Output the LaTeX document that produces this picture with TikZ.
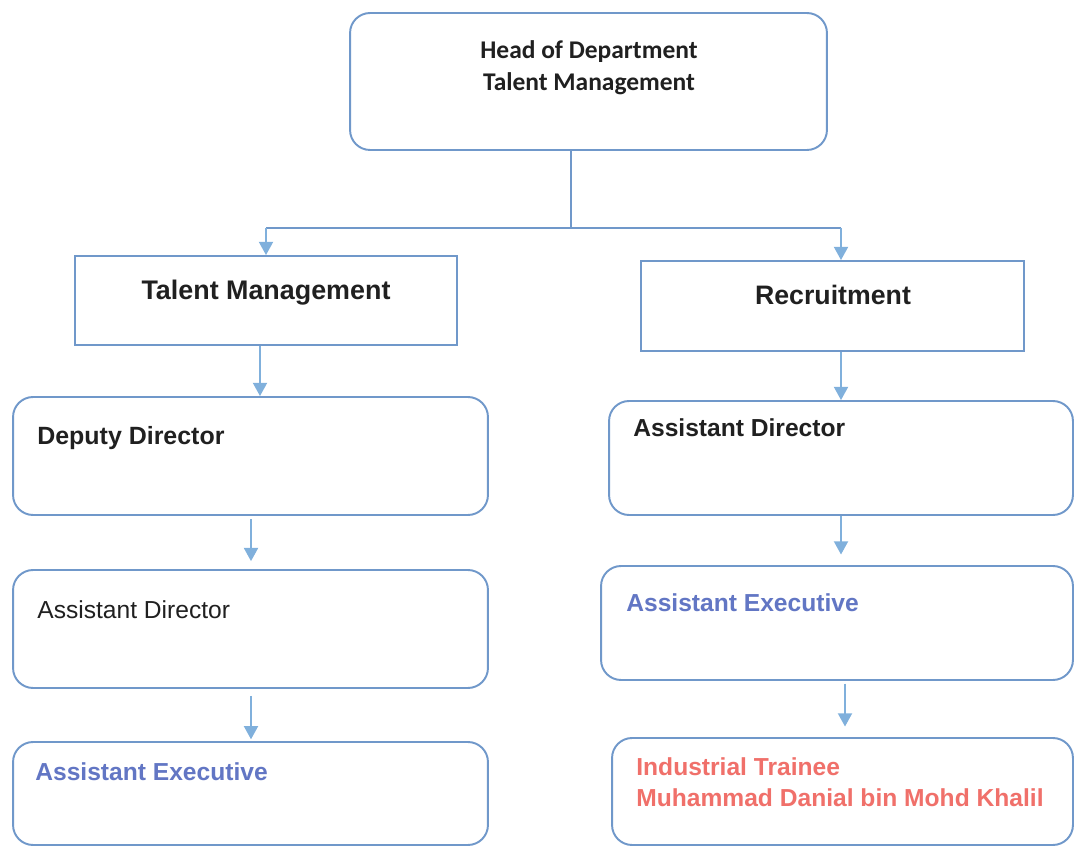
\documentclass[tikz,border=0pt]{standalone}
\usepackage{fontspec}
\setmainfont{Liberation Sans}
\newfontfamily\headfont{Carlito}
\usetikzlibrary{arrows.meta}
\definecolor{boxline}{RGB}{112,152,202}
\definecolor{arrowblue}{RGB}{128,176,220}
\definecolor{exectext}{RGB}{98,118,196}
\definecolor{traineetext}{RGB}{240,112,106}
\definecolor{darktext}{RGB}{32,32,32}
\begin{document}
\begin{tikzpicture}
	[x=0.02cm,y=-0.02cm,
	rbox/.style={draw=boxline,line width=1.1pt,rounded corners=0.4cm,fill=white,inner sep=0pt},
	sbox/.style={draw=boxline,line width=1.1pt,fill=white,inner sep=0pt},
	lbl/.style={inner sep=0pt,text=darktext,font=\fontsize{14}{17}\selectfont},
	link/.style={draw=boxline,line width=0.7pt},
	arr/.style={->,draw=arrowblue,line width=1pt},
	>={Triangle[width=8pt,length=7.5pt]}]
	\useasboundingbox (0,0) rectangle (1075,847);
	\node[rbox,name=top,minimum width=9.54cm,minimum height=2.74cm]at(588.5,81.5){};
	\node[sbox,name=tm,minimum width=7.64cm,minimum height=1.78cm]at(266,300.5){};
	\node[sbox,name=rec,minimum width=7.66cm,minimum height=1.8cm]at(832.5,306){};
	\node[rbox,name=dd,minimum width=9.5cm,minimum height=2.36cm]at(250.5,456){};
	\node[rbox,name=ad,minimum width=9.5cm,minimum height=2.36cm]at(250.5,629){};
	\node[rbox,name=ae,minimum width=9.5cm,minimum height=2.06cm]at(250.5,793.5){};
	\node[rbox,name=rad,minimum width=9.28cm,minimum height=2.28cm]at(841,458){};
	\node[rbox,name=rae,minimum width=9.44cm,minimum height=2.28cm]at(837,623){};
	\node[rbox,name=it,minimum width=9.22cm,minimum height=2.14cm]at(842.5,791.5){};
	% texts
	\node[lbl,anchor=north,align=center,font=\headfont\bfseries\fontsize{14.5}{18.2}\selectfont,name=toptext]at(589,40){Head of Department\\Talent Management};
	\node[lbl,anchor=base,font=\bfseries\fontsize{15.3}{18}\selectfont,name=tmtext]at(266,300){Talent Management};
	\node[lbl,anchor=base,font=\bfseries\fontsize{15.2}{18}\selectfont,name=rectext]at(833,305){Recruitment};
	\node[lbl,anchor=base west,font=\bfseries\fontsize{14.2}{17}\selectfont,name=ddtext]at(37,445){Deputy Director};
	\node[lbl,anchor=base west,name=adtext]at(37,618){Assistant Director};
	\node[lbl,anchor=base west,text=exectext,font=\bfseries\fontsize{14}{17}\selectfont,name=aetext]at(35,780){Assistant Executive};
	\node[lbl,anchor=base west,font=\bfseries\fontsize{14}{17}\selectfont,name=radtext]at(633,437){Assistant Director};
	\node[lbl,anchor=base west,text=exectext,font=\bfseries\fontsize{14}{17}\selectfont,name=raetext]at(626,611){Assistant Executive};
	\node[lbl,anchor=base west,align=left,text=traineetext,font=\bfseries\fontsize{14}{17.6}\selectfont,name=ittext]at(636,806){Industrial Trainee\\Muhammad Danial bin Mohd Khalil};
	% connectors
	\coordinate (split) at (571,228);
	\coordinate (jl) at (266,228);
	\coordinate (jr) at (841,228);
	\draw[link](top.south -| split) -- (split);
	\draw[link](jl) -- (jr);
	\draw[arr](jl) -- (tm.north);
	\draw[arr](jr) -- (rec.north -| jr);
	\draw[arr](tm.south -| 260,0) -- (dd.north -| 260,0);
	\draw[arr,shorten <=2pt,shorten >=4.5pt](dd.south -| 251,0) -- (ad.north -| 251,0);
	\draw[arr,shorten <=4pt,shorten >=1pt](ad.south -| 251,0) -- (ae.north -| 251,0);
	\draw[arr](rec.south -| 841,0) -- (rad.north -| 841,0);
	\draw[arr,shorten >=6pt](rad.south -| 841,0) -- (rae.north -| 841,0);
	\draw[arr,shorten <=1.5pt,shorten >=6pt](rae.south -| 845,0) -- (it.north -| 845,0);
\end{tikzpicture}
\end{document}
